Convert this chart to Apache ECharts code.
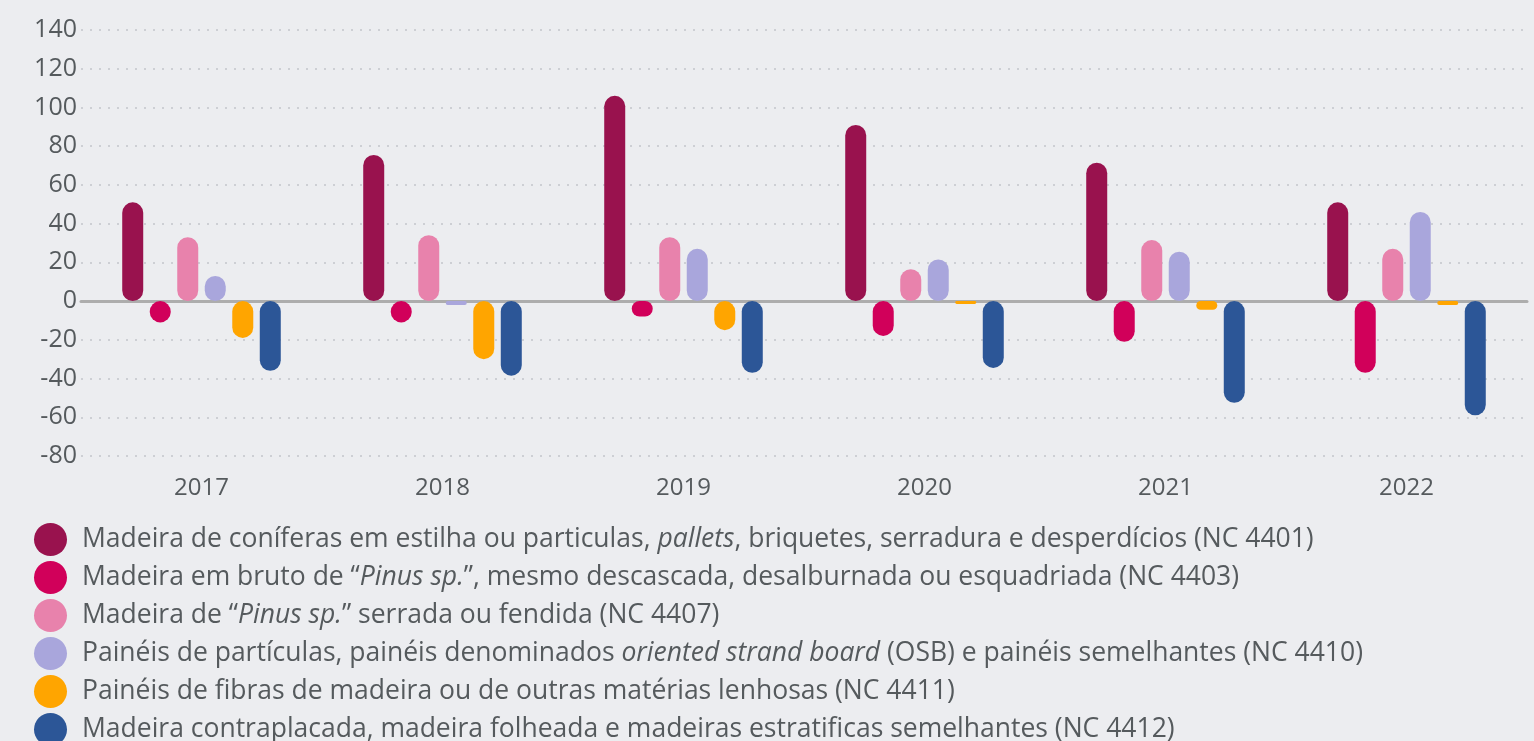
<!DOCTYPE html>
<html>
<head>
<meta charset="utf-8">
<script src="https://cdn.jsdelivr.net/npm/echarts@6/dist/echarts.min.js"></script>
<style>
  html, body { margin: 0; padding: 0; background: #ecedf0; }
  #main { width: 1534px; height: 741px; }
</style>
</head>
<body>
<div id="main"></div>
<script>
// dados
var anos = ['2017', '2018', '2019', '2020', '2021', '2022'];
var nc4401 = [51, 75.5, 106, 91, 71.5, 51];
var nc4403 = [-11, -11, -8, -18, -21, -37];
var nc4407 = [33, 34, 33, 16.5, 31.5, 27];
var nc4410 = [13, -2, 27, 21.5, 25.5, 46];
var nc4411 = [-19, -30, -15, -1.5, -4.5, -2];
var nc4412 = [-36, -38.5, -37, -34.5, -52.5, -59];
var yTicks = [-80, -60, -40, -20, 0, 20, 40, 60, 80, 100, 120, 140];

var nomes = [
  'Madeira de coníferas em estilha ou particulas, pallets, briquetes, serradura e desperdícios (NC 4401)',
  'Madeira em bruto de “Pinus sp.”, mesmo descascada, desalburnada ou esquadriada (NC 4403)',
  'Madeira de “Pinus sp.” serrada ou fendida (NC 4407)',
  'Painéis de partículas, painéis denominados oriented strand board (OSB) e painéis semelhantes (NC 4410)',
  'Painéis de fibras de madeira ou de outras matérias lenhosas (NC 4411)',
  'Madeira contraplacada, madeira folheada e madeiras estratificas semelhantes (NC 4412)'
];
// partes em itálico na legenda
var italicos = ['pallets', 'Pinus sp.', 'Pinus sp.', 'oriented strand board', null, null];
var cores = ['#99124e', '#d1005a', '#e882ac', '#a9a6dc', '#ffa500', '#2c5697'];
var valores = [nc4401, nc4403, nc4407, nc4410, nc4411, nc4412];

var fonte = '"Open Sans", sans-serif';
var corTexto = '#555a5d';

var chart = echarts.init(document.getElementById('main'));

var series = nomes.map(function (n, i) {
  return {
    name: n,
    type: 'bar',
    data: valores[i],
    barWidth: 21,
    barGap: '31%',
    itemStyle: { color: cores[i], borderRadius: 10.5 }
  };
});

var option = {
  backgroundColor: '#ecedf0',
  animation: false,
  color: cores,
  grid: { left: 81, right: 7, top: 30, bottom: 285 },
  xAxis: {
    type: 'category',
    data: anos,
    axisTick: { show: false },
    axisLine: { onZero: true, lineStyle: { color: '#adadad', width: 3 } },
    axisLabel: { color: corTexto, fontFamily: fonte, fontSize: 24, margin: 20 }
  },
  yAxis: {
    type: 'value',
    min: yTicks[0],
    max: yTicks[yTicks.length - 1],
    interval: 20,
    axisLine: { show: false },
    axisTick: { show: false },
    axisLabel: { color: corTexto, fontFamily: fonte, fontSize: 25, margin: 4 },
    splitLine: { lineStyle: { color: '#cdcfd4', width: 2, type: [2, 7] } }
  },
  legend: {
    orient: 'vertical',
    left: 29,
    top: 518,
    height: 240,
    itemWidth: 33,
    itemHeight: 33,
    itemGap: 5,
    icon: 'circle',
    data: nomes,
    formatter: function (name) {
      var i = nomes.indexOf(name);
      var it = italicos[i];
      if (!it) return name;
      var p = name.indexOf(it);
      return name.slice(0, p) + '{i|' + it + '}' + name.slice(p + it.length);
    },
    textStyle: {
      color: corTexto, fontFamily: fonte, fontSize: 26.5, padding: [0, 0, 0, 10],
      rich: { i: { fontStyle: 'italic', color: corTexto, fontFamily: fonte, fontSize: 26.5 } }
    }
  },
  series: series
};
chart.setOption(option);
</script>
</body>
</html>
